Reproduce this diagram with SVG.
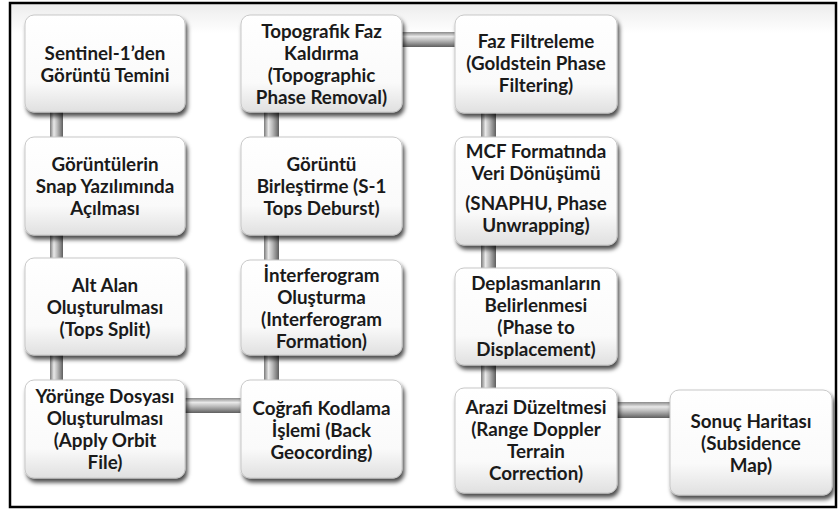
<svg xmlns="http://www.w3.org/2000/svg" width="839" height="511" viewBox="0 0 839 511">
<defs>
<linearGradient id="boxg" x1="0" y1="0" x2="0" y2="1">
<stop offset="0" stop-color="#ffffff"/>
<stop offset="0.7" stop-color="#fafafa"/>
<stop offset="1" stop-color="#e0e0e0"/>
</linearGradient>
<linearGradient id="vpipe" x1="0" y1="0" x2="1" y2="0">
<stop offset="0" stop-color="#7a7a7a"/>
<stop offset="0.3" stop-color="#e8e8e8"/>
<stop offset="0.55" stop-color="#bdbdbd"/>
<stop offset="0.8" stop-color="#8a8a8a"/>
<stop offset="1" stop-color="#5e5e5e"/>
</linearGradient>
<linearGradient id="hpipe" x1="0" y1="0" x2="0" y2="1">
<stop offset="0" stop-color="#8a8a8a"/>
<stop offset="0.3" stop-color="#e8e8e8"/>
<stop offset="0.55" stop-color="#bdbdbd"/>
<stop offset="0.8" stop-color="#8a8a8a"/>
<stop offset="1" stop-color="#5e5e5e"/>
</linearGradient>
<linearGradient id="bg" x1="0" y1="0" x2="0" y2="1">
<stop offset="0" stop-color="#ececec"/>
<stop offset="0.06" stop-color="#ffffff"/>
<stop offset="1" stop-color="#ffffff"/>
</linearGradient>
<filter id="sh" x="-10%" y="-10%" width="125%" height="130%">
<feDropShadow dx="2" dy="4" stdDeviation="2.2" flood-color="#000" flood-opacity="0.7"/>
</filter>
</defs>
<style>
.box{fill:url(#boxg);stroke:#c8c8c8;stroke-width:1;filter:url(#sh)}
.vp{fill:url(#vpipe)}
.hp{fill:url(#hpipe)}
text{font-family:Lato,"Open Sans","Liberation Sans",sans-serif;font-weight:bold;font-size:18.8px;fill:#1a1a1a;text-anchor:middle}
</style>
<rect x="10" y="3" width="826" height="504" fill="url(#bg)" stroke="#000" stroke-width="2.5"/>
<g id="connectors">
<rect class="vp" x="50" y="108" width="13" height="33"/>
<rect class="vp" x="50" y="231" width="13" height="31"/>
<rect class="vp" x="50" y="351" width="13" height="33"/>
<rect class="hp" x="181" y="398" width="64" height="15"/>
<rect class="vp" x="264" y="351" width="15" height="33"/>
<rect class="vp" x="264" y="231" width="15" height="33"/>
<rect class="vp" x="264" y="108" width="15" height="33"/>
<rect class="hp" x="398" y="32" width="61" height="15"/>
<rect class="vp" x="481" y="109" width="15" height="32"/>
<rect class="vp" x="481" y="241" width="15" height="31"/>
<rect class="vp" x="481" y="361" width="15" height="31"/>
<rect class="hp" x="613" y="402" width="61" height="16"/>
</g>
<g id="n1"><rect class="box" x="25" y="15" width="160" height="97" rx="9"/>
<text x="105" y="59.5">Sentinel-1’den</text><text x="105" y="81.5">Görüntü Temini</text></g>
<g id="n2"><rect class="box" x="25" y="137" width="160" height="98" rx="9"/>
<text x="105" y="171">Görüntülerin</text><text x="105" y="193">Snap Yazılımında</text><text x="105" y="215">Açılması</text></g>
<g id="n3"><rect class="box" x="25" y="258" width="160" height="97" rx="9"/>
<text x="105" y="292">Alt Alan</text><text x="105" y="314">Oluşturulması</text><text x="105" y="336">(Tops Split)</text></g>
<g id="n4"><rect class="box" x="25" y="380" width="160" height="98" rx="9"/>
<text x="105" y="403">Yörünge Dosyası</text><text x="105" y="425">Oluşturulması</text><text x="105" y="447">(Apply Orbit</text><text x="105" y="469">File)</text></g>
<g id="n5"><rect class="box" x="241" y="380" width="161" height="98" rx="9"/>
<text x="321.5" y="415">Coğrafi Kodlama</text><text x="321.5" y="437">İşlemi (Back</text><text x="321.5" y="459">Geocording)</text></g>
<g id="n6"><rect class="box" x="241" y="260" width="161" height="95" rx="9"/>
<text x="321.5" y="281.5">İnterferogram</text><text x="321.5" y="303.5">Oluşturma</text><text x="321.5" y="325.5">(Interferogram</text><text x="321.5" y="347.5">Formation)</text></g>
<g id="n7"><rect class="box" x="241" y="137" width="161" height="98" rx="9"/>
<text x="321.5" y="171">Görüntü</text><text x="321.5" y="193">Birleştirme (S-1</text><text x="321.5" y="215">Tops Deburst)</text></g>
<g id="n8"><rect class="box" x="241" y="15" width="161" height="97" rx="9"/>
<text x="321.5" y="37.5">Topografik Faz</text><text x="321.5" y="59.5">Kaldırma</text><text x="321.5" y="81.5">(Topographic</text><text x="321.5" y="103.5">Phase Removal)</text></g>
<g id="n9"><rect class="box" x="455" y="15" width="162" height="98" rx="9"/>
<text x="536" y="48">Faz Filtreleme</text><text x="536" y="70">(Goldstein Phase</text><text x="536" y="92">Filtering)</text></g>
<g id="n10"><rect class="box" x="455" y="137" width="162" height="108" rx="9"/>
<text x="536" y="158">MCF Formatında</text><text x="536" y="180">Veri Dönüşümü</text><text x="536" y="210">(SNAPHU, Phase</text><text x="536" y="232">Unwrapping)</text></g>
<g id="n11"><rect class="box" x="455" y="268" width="162" height="97" rx="9"/>
<text x="536" y="290">Deplasmanların</text><text x="536" y="312">Belirlenmesi</text><text x="536" y="334">(Phase to</text><text x="536" y="356">Displacement)</text></g>
<g id="n12"><rect class="box" x="455" y="388" width="162" height="105" rx="9"/>
<text x="536" y="414">Arazi Düzeltmesi</text><text x="536" y="436">(Range Doppler</text><text x="536" y="458">Terrain</text><text x="536" y="480">Correction)</text></g>
<g id="n13"><rect class="box" x="670" y="390" width="162" height="105" rx="9"/>
<text x="751" y="427.5">Sonuç Haritası</text><text x="751" y="449.5">(Subsidence</text><text x="751" y="471.5">Map)</text></g>
</svg>
